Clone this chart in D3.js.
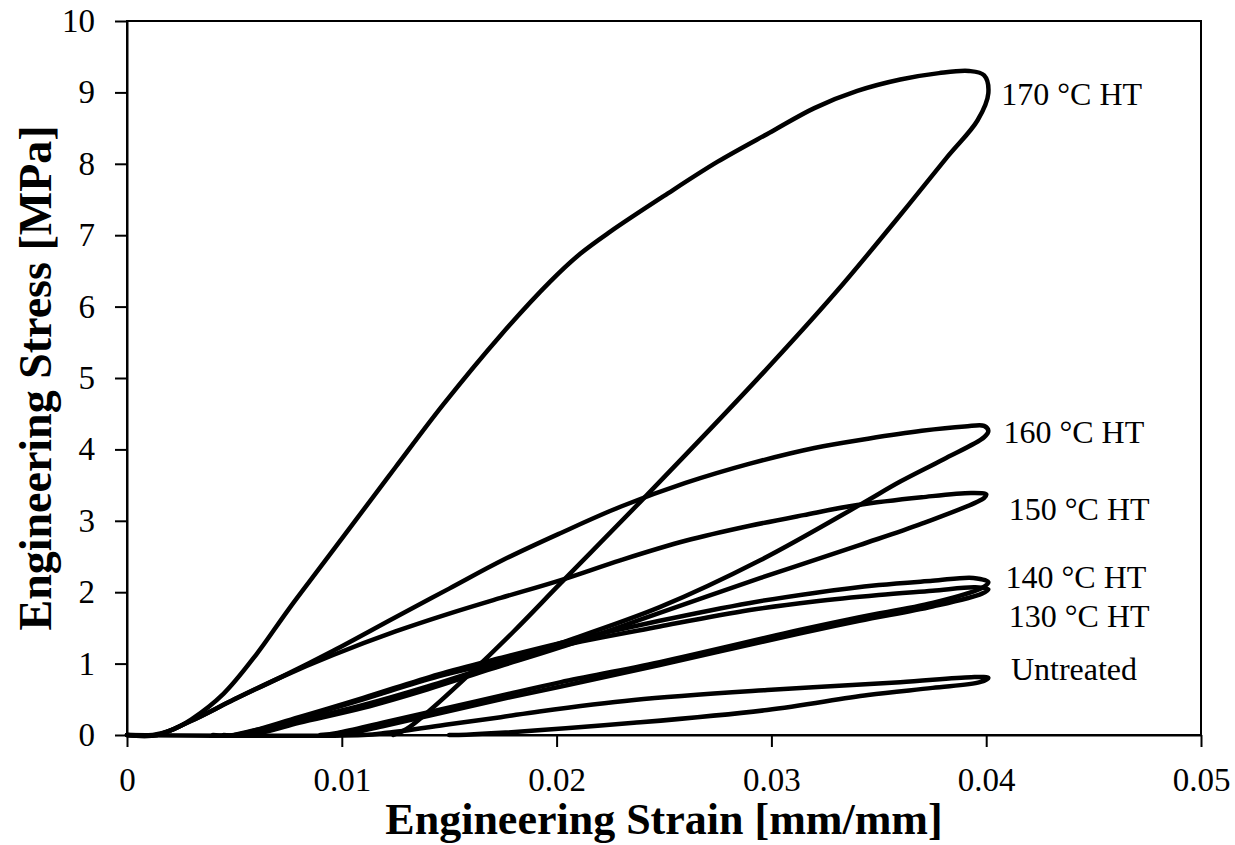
<!DOCTYPE html>
<html>
<head>
<meta charset="utf-8">
<script src="https://cdn.jsdelivr.net/npm/d3@7"></script>
<style>
  html, body { margin: 0; padding: 0; background: #fff; }
  svg { display: block; }
  text { font-family: "Liberation Serif", "Times New Roman", serif; fill: #000; }
</style>
</head>
<body>
<svg id="chart" width="1235" height="845"></svg>
<script>
// Cyclic tensile loops: loading branch, turn-around at 0.04 strain, unloading branch.
const xTicks = [0, 0.01, 0.02, 0.03, 0.04, 0.05];
const xTickLabels = ["0", "0.01", "0.02", "0.03", "0.04", "0.05"];
const yTicks = [0, 1, 2, 3, 4, 5, 6, 7, 8, 9, 10];
const yTickLabels = ["0", "1", "2", "3", "4", "5", "6", "7", "8", "9", "10"];

const seriesNames = ["170 °C HT", "160 °C HT", "150 °C HT", "140 °C HT", "130 °C HT", "Untreated"];

const strain170 = [0, 0.0012, 0.0020, 0.0030, 0.0045, 0.0060, 0.0075, 0.0090, 0.0105, 0.0125, 0.0147, 0.0174, 0.0197, 0.0211, 0.0225, 0.0250, 0.0275, 0.0300, 0.0320, 0.0340, 0.0360, 0.0378, 0.0392, 0.0399, 0.0401, 0.0396, 0.0382, 0.0358, 0.0330, 0.0293, 0.0242, 0.0202, 0.0180, 0.0158, 0.0140, 0.0130, 0.0124];
const stress170 = [0, 0, 0.06, 0.22, 0.58, 1.12, 1.75, 2.35, 2.95, 3.75, 4.62, 5.60, 6.35, 6.74, 7.05, 7.55, 8.03, 8.45, 8.78, 9.02, 9.18, 9.27, 9.30, 9.24, 8.99, 8.61, 8.10, 7.21, 6.20, 4.97, 3.36, 2.13, 1.45, 0.81, 0.32, 0.08, 0];

const strain160 = [0, 0.0014, 0.0030, 0.0050, 0.0071, 0.0096, 0.0125, 0.0150, 0.0175, 0.0202, 0.0230, 0.0260, 0.0290, 0.0320, 0.0345, 0.0370, 0.0390, 0.0399, 0.0401, 0.0399, 0.0380, 0.0360, 0.0341, 0.0295, 0.0248, 0.0202, 0.0170, 0.0140, 0.0110, 0.0080, 0.0060, 0.0050];
const stress160 = [0, 0, 0.20, 0.50, 0.80, 1.18, 1.65, 2.05, 2.45, 2.83, 3.20, 3.53, 3.80, 4.02, 4.15, 4.26, 4.32, 4.33, 4.26, 4.17, 3.86, 3.55, 3.22, 2.45, 1.79, 1.29, 0.97, 0.68, 0.42, 0.20, 0.07, 0];

const strain150 = [0, 0.0014, 0.0030, 0.0050, 0.0071, 0.0096, 0.0125, 0.0150, 0.0174, 0.0202, 0.0230, 0.0260, 0.0290, 0.0315, 0.0340, 0.0370, 0.0393, 0.0400, 0.0399, 0.0370, 0.0341, 0.0295, 0.0248, 0.0202, 0.0170, 0.0140, 0.0110, 0.0080, 0.0065, 0.0055];
const stress150 = [0, 0, 0.20, 0.50, 0.80, 1.12, 1.45, 1.70, 1.92, 2.17, 2.45, 2.72, 2.93, 3.08, 3.22, 3.33, 3.39, 3.37, 3.32, 2.96, 2.66, 2.20, 1.71, 1.23, 0.93, 0.64, 0.38, 0.17, 0.05, 0];

const strain140 = [0.0040, 0.0050, 0.0080, 0.0110, 0.0145, 0.0174, 0.0202, 0.0248, 0.0290, 0.0320, 0.0350, 0.0375, 0.0394, 0.0401, 0.0398, 0.0375, 0.0341, 0.0313, 0.0248, 0.0202, 0.0174, 0.0145, 0.0120, 0.0098, 0.0090];
const stress140 = [0, 0, 0.25, 0.52, 0.85, 1.08, 1.29, 1.60, 1.85, 1.99, 2.10, 2.16, 2.20, 2.14, 2.06, 1.85, 1.65, 1.47, 1.02, 0.74, 0.55, 0.35, 0.18, 0.03, 0];

const strain130 = [0.0045, 0.0055, 0.0080, 0.0110, 0.0145, 0.0174, 0.0202, 0.0248, 0.0290, 0.0320, 0.0350, 0.0375, 0.0395, 0.0401, 0.0398, 0.0375, 0.0341, 0.0313, 0.0248, 0.0202, 0.0174, 0.0145, 0.0120, 0.0105, 0.0098];
const stress130 = [0, 0, 0.23, 0.50, 0.82, 1.03, 1.25, 1.52, 1.75, 1.87, 1.96, 2.02, 2.07, 2.04, 1.98, 1.80, 1.60, 1.42, 0.98, 0.68, 0.50, 0.30, 0.13, 0.03, 0];

const strainUntreated = [0, 0.0110, 0.0121, 0.0150, 0.0174, 0.0192, 0.0236, 0.0298, 0.0360, 0.0393, 0.0401, 0.0397, 0.0375, 0.0345, 0.0298, 0.0236, 0.0174, 0.0158, 0.0150];
const stressUntreated = [0, 0, 0.03, 0.15, 0.25, 0.33, 0.49, 0.63, 0.74, 0.81, 0.80, 0.74, 0.66, 0.56, 0.35, 0.17, 0.03, 0.005, 0];

const seriesStrain = [strain170, strain160, strain150, strain140, strain130, strainUntreated];
const seriesStress = [stress170, stress160, stress150, stress140, stress130, stressUntreated];

// label anchor points (text baseline): strain/stress where each series name is written
const labelStrain = [0.04070, 0.04080, 0.04105, 0.04090, 0.04105, 0.04115];
const labelStress = [8.82, 4.09, 3.01, 2.06, 1.51, 0.77];

const svg = d3.select("#chart");
const margin = { left: 127, right: 34, top: 21, bottom: 110 };
const W = 1235, H = 845;

const x = d3.scaleLinear().domain([0, 0.05]).range([margin.left, W - margin.right]);
const y = d3.scaleLinear().domain([0, 10]).range([H - margin.bottom, margin.top]);

// frame
svg.append("rect")
  .attr("x", x(0)).attr("y", y(10))
  .attr("width", x(0.05) - x(0)).attr("height", y(0) - y(10))
  .attr("fill", "none").attr("stroke", "#000").attr("stroke-width", 2);

// axes
const xAxis = d3.axisBottom(x)
  .tickValues(xTicks)
  .tickFormat((d, i) => xTickLabels[i])
  .tickSize(12).tickSizeOuter(0).tickPadding(21);
const gx = svg.append("g").attr("transform", `translate(0,${y(0)})`).call(xAxis);
gx.select(".domain").attr("stroke-width", 2);
gx.selectAll(".tick line").attr("stroke-width", 2);
gx.selectAll(".tick text").attr("font-size", 33).attr("font-family", "Liberation Serif");

const yAxis = d3.axisLeft(y)
  .tickValues(yTicks)
  .tickFormat((d, i) => yTickLabels[i])
  .tickSize(12).tickSizeOuter(0).tickPadding(20);
const gy = svg.append("g").attr("transform", `translate(${x(0)},0)`).call(yAxis);
gy.select(".domain").attr("stroke-width", 2);
gy.selectAll(".tick line").attr("stroke-width", 2);
gy.selectAll(".tick text").attr("font-size", 33).attr("font-family", "Liberation Serif");

// axis titles
svg.append("text")
  .attr("x", (x(0) + x(0.05)) / 2).attr("y", 834)
  .attr("text-anchor", "middle")
  .attr("font-size", 44).attr("font-weight", "bold")
  .text("Engineering Strain [mm/mm]");

svg.append("text")
  .attr("transform", `translate(51,${(y(0) + y(10)) / 2}) rotate(-90)`)
  .attr("text-anchor", "middle")
  .attr("font-size", 46).attr("font-weight", "bold")
  .text("Engineering Stress [MPa]");

// loops
const line = d3.line()
  .x(d => x(d[0]))
  .y(d => y(d[1]))
  .curve(d3.curveCatmullRom.alpha(0.5));

const plot = svg.append("g");
seriesNames.forEach((name, i) => {
  const pts = seriesStrain[i].map((s, k) => [s, seriesStress[i][k]]);
  plot.append("path")
    .datum(pts)
    .attr("d", line)
    .attr("fill", "none")
    .attr("stroke", "#000")
    .attr("stroke-width", 4.5)
    .attr("stroke-linejoin", "round")
    .attr("stroke-linecap", "round");
});

// series labels
svg.append("g").selectAll("text")
  .data(seriesNames)
  .join("text")
  .attr("x", (d, i) => x(labelStrain[i]))
  .attr("y", (d, i) => y(labelStress[i]))
  .attr("font-size", 32)
  .text(d => d);
</script>
</body>
</html>
